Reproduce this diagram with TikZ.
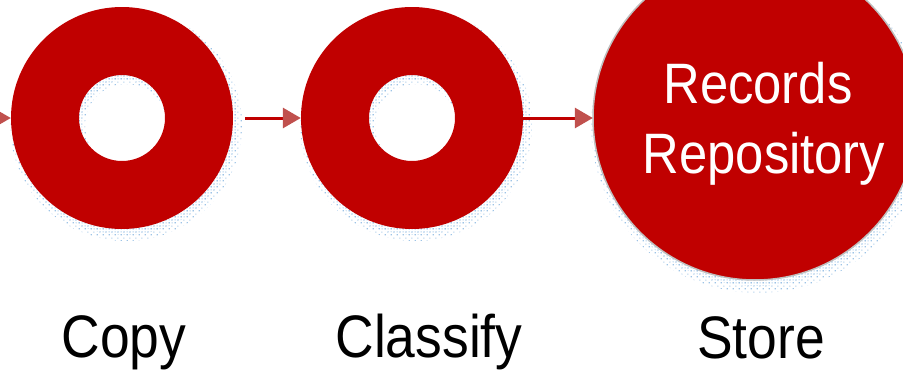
\documentclass[tikz,border=0pt]{standalone}
\usepackage{fontspec}
\usetikzlibrary{arrows.meta,patterns}
\newfontfamily\narrowfont[FakeStretch=0.89]{Liberation Sans}
\definecolor{ringred}{HTML}{C00000}
\definecolor{tipred}{HTML}{C0504D}
\definecolor{shadowblue}{HTML}{9DC3E6}
\definecolor{rimgray}{HTML}{BFBFBF}
\pgfdeclarepatternformonly{stipple}{\pgfqpoint{0pt}{0pt}}{\pgfqpoint{3pt}{3pt}}{\pgfqpoint{3pt}{3pt}}{%
  \pgfpathrectangle{\pgfqpoint{0.8pt}{0.8pt}}{\pgfqpoint{1.3pt}{1.3pt}}\pgfusepath{fill}}
\pgfdeclarepatternformonly{stipplesparse}{\pgfqpoint{0pt}{0pt}}{\pgfqpoint{6pt}{6pt}}{\pgfqpoint{6pt}{6pt}}{%
  \pgfpathrectangle{\pgfqpoint{0.8pt}{0.8pt}}{\pgfqpoint{1.3pt}{1.3pt}}\pgfusepath{fill}%
  \pgfpathrectangle{\pgfqpoint{3.8pt}{3.8pt}}{\pgfqpoint{1.3pt}{1.3pt}}\pgfusepath{fill}}
\tikzset{
  ringnode/.style={circle, inner sep=0pt, minimum size=222pt},
  shadowfill/.style={pattern=stipple, pattern color=shadowblue, even odd rule},
  shadowfaint/.style={pattern=stipplesparse, pattern color=shadowblue, even odd rule},
  flowarrow/.style={draw=ringred, line width=3pt, -{Triangle[length=18pt,width=20pt,color=tipred]}},
  labeltext/.style={anchor=base, inner sep=0pt, text=black, font=\narrowfont\fontsize{60}{60}\selectfont},
  reptext/.style={anchor=base, inner sep=0pt, text=white, font=\narrowfont\fontsize{57}{57}\selectfont}
}
\begin{document}
\begin{tikzpicture}[x=1pt,y=-1pt]
\useasboundingbox (0,0) rectangle (903,380);
\clip (0,0) rectangle (903,380);
% shadows
\fill[shadowfaint] (126,125) circle (116) (126,125) circle (41);
\fill[shadowfill] (125,123) circle (112) (125,123) circle (43);
\fill[shadowfaint] (416,125) circle (116) (416,125) circle (41);
\fill[shadowfill] (415,123) circle (112) (415,123) circle (43);
\fill[shadowfaint] (758,126) circle (167);
\fill[shadowfill] (757,123) circle (163);
% nodes
\node[ringnode] (copyring) at (122,118) {};
\node[ringnode] (classring) at (412,118) {};
\node[circle, inner sep=0pt, minimum size=324pt] (store) at (755,118) {};
\fill[ringred, even odd rule] (copyring.center) circle (111) (copyring.center) circle (43);
\fill[ringred, even odd rule] (classring.center) circle (111) (classring.center) circle (43);
\fill[ringred, draw=rimgray, line width=1.5pt] (store.center) circle (162);
% text
\node[reptext] (rec1) at (758,103) {Records};
\node[reptext] (rec2) at (764,173) {Repository};
\node[labeltext] (copylbl) at (124,357) {Copy};
\node[labeltext] (classlbl) at (429,357) {Classify};
\node[labeltext] (storelbl) at (761,358) {Store};
% arrows
\coordinate (inflow) at (-40,118);
\draw[flowarrow] (inflow) -- (copyring.west);
\draw[flowarrow] (copyring.east) ++(12,0) -- (classring.west);
\draw[flowarrow] (classring.east) -- (store.west);
\end{tikzpicture}
\end{document}
